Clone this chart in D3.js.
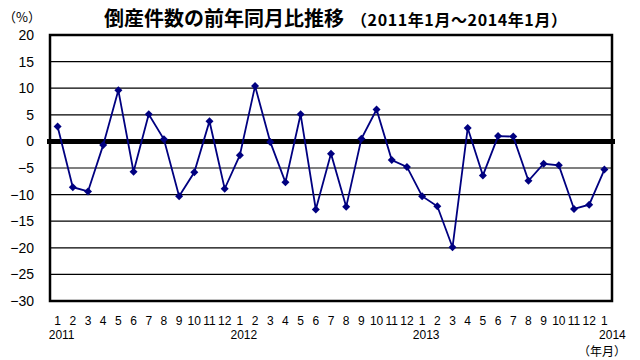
<!DOCTYPE html>
<html>
<head>
<meta charset="utf-8">
<script src="https://cdn.jsdelivr.net/npm/d3@7"></script>
<style>
body { margin: 0; background: #fff; }
text { font-family: "Liberation Sans", Arial, sans-serif; }
.jp { font-family: "Noto Sans CJK JP", sans-serif; }
</style>
</head>
<body>
<div id="chart"></div>
<script>
// data: year-on-year change of bankruptcy counts (%), Jan 2011 - Jan 2014
var months = [1,2,3,4,5,6,7,8,9,10,11,12,1,2,3,4,5,6,7,8,9,10,11,12,1,2,3,4,5,6,7,8,9,10,11,12,1];
var years = [{idx: 0, label: "2011"}, {idx: 12, label: "2012"}, {idx: 24, label: "2013"}, {idx: 36, label: "2014"}];
var values = [2.8, -8.6, -9.4, -0.7, 9.6, -5.7, 5.1, 0.4, -10.3, -5.8, 3.8, -8.9,
              -2.6, 10.4, -0.1, -7.7, 5.1, -12.8, -2.3, -12.3, 0.5, 6.0, -3.5, -4.8,
              -10.3, -12.2, -19.9, 2.5, -6.4, 1.0, 0.9, -7.4, -4.2, -4.5, -12.7, -11.9,
              -5.3];
var yTicks = [20, 15, 10, 5, 0, -5, -10, -15, -20, -25, -30];

var svgWidth = 640, svgHeight = 360;
var margin = {top: 35, right: 28, bottom: 59, left: 50};
var width = svgWidth - margin.left - margin.right;
var height = svgHeight - margin.top - margin.bottom;

var svg = d3.select("#chart").append("svg")
  .attr("width", svgWidth)
  .attr("height", svgHeight);

var g = svg.append("g")
  .attr("transform", `translate(${margin.left}, ${margin.top})`);

var x = d3.scaleBand()
  .domain(d3.range(values.length))
  .range([0, width]);

var y = d3.scaleLinear()
  .domain([-30, 20])
  .range([height, 0]);

// gridlines
g.selectAll(".grid")
  .data(yTicks.filter(d => d !== 0 && d !== 20 && d !== -30))
  .enter().append("line")
  .attr("x1", 0).attr("x2", width)
  .attr("y1", d => y(d)).attr("y2", d => y(d))
  .attr("stroke", "#000").attr("stroke-width", 1.2);

// y axis labels
var yAxis = d3.axisLeft(y).tickValues(yTicks).tickSize(0).tickPadding(16);
g.append("g").call(yAxis)
  .call(s => s.select(".domain").remove())
  .selectAll("text")
  .attr("font-size", "14px")
  .attr("fill", "#000")
  .style("font-family", "'Liberation Sans', Arial, sans-serif");

// frame
g.append("rect")
  .attr("x", 0).attr("y", 0)
  .attr("width", width).attr("height", height)
  .attr("fill", "none")
  .attr("stroke", "#000").attr("stroke-width", 2.5);

// zero line
g.append("line")
  .attr("x1", -3).attr("x2", width + 3)
  .attr("y1", y(0)).attr("y2", y(0))
  .attr("stroke", "#000").attr("stroke-width", 5);

// series line
var line = d3.line()
  .x((d, i) => x(i) + x.bandwidth() / 2)
  .y(d => y(d));

g.append("path")
  .datum(values)
  .attr("d", line)
  .attr("fill", "none")
  .attr("stroke", "#000080")
  .attr("stroke-width", 1.8);

g.selectAll(".pt")
  .data(values)
  .enter().append("path")
  .attr("d", d3.symbol().type(d3.symbolSquare).size(32))
  .attr("transform", (d, i) => `translate(${x(i) + x.bandwidth() / 2}, ${y(d)}) rotate(45)`)
  .attr("fill", "#000080");

// month labels
g.selectAll(".mon")
  .data(months)
  .enter().append("text")
  .attr("x", (d, i) => x(i) + x.bandwidth() / 2)
  .attr("y", height + 24)
  .attr("text-anchor", "middle")
  .attr("font-size", "12px")
  .text(d => d);

// year labels
g.selectAll(".yr")
  .data(years)
  .enter().append("text")
  .attr("x", d => x(d.idx) + x.bandwidth() / 2 + (d.idx === 36 ? 8 : 4))
  .attr("y", height + 38)
  .attr("text-anchor", "middle")
  .attr("font-size", "12px")
  .text(d => d.label);

g.append("text")
  .attr("class", "jp")
  .attr("x", width + 14)
  .attr("y", height + 55)
  .attr("text-anchor", "end")
  .attr("font-size", "12px")
  .text("（年月）");

// unit label
svg.append("text")
  .attr("class", "jp")
  .attr("x", 22).attr("y", 22)
  .attr("text-anchor", "middle")
  .attr("font-size", "13px")
  .text("（%）");

// title
var title = svg.append("text")
  .attr("class", "jp")
  .attr("x", 104).attr("y", 26)
  .attr("font-weight", "bold");
title.append("tspan").attr("font-size", "20px").text("倒産件数の前年同月比推移");
title.append("tspan").attr("font-size", "16px").attr("dx", 7)
  .attr("letter-spacing", "0.6px")
  .text("（2011年1月～2014年1月）");
</script>
</body>
</html>
